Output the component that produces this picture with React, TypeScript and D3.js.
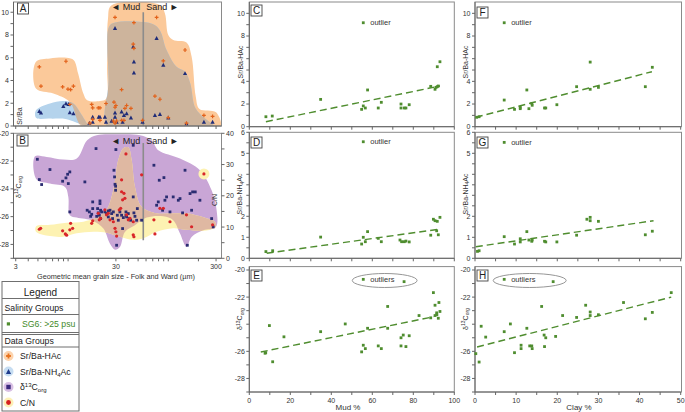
import React from "react";
import * as d3 from "d3";

type P = [number, number];

// ---------------- DATA ----------------
// Panel A: grain size (µm) vs Sr/Ba
const srBaHAc: P[] = [
  [5.16, 5.2], [5.36, 3.5], [8.82, 3.44], [9.52, 5.69], [9.97, 3.24], [10.6, 3.2], [11.3, 3.5], [10.4, 1.9],
  [17.2, 1.9], [17.6, 1.6], [20.0, 1.6], [20.8, 1.6], [23.9, 1.98], [28.7, 2.1], [29.4, 1.65], [30.0, 1.8],
  [29.4, 9.55], [34.2, 3.2], [36.9, 1.55], [38.4, 1.8], [42.4, 1.55], [44.7, 7.2], [45.4, 6.82], [45.4, 9.08],
  [76.5, 9.55], [73.6, 2.62], [82.6, 2.35], [89.2, 5.73], [147, 6.68], [227, 0.94], [277, 0.85], [55.4, 0.5],
  [100, 0.73], [152, 0.26], [16.5, 0.26], [17.6, 0.58], [20.8, 0.5], [28.3, 0.44], [30.5, 0.44], [34.2, 0.5],
  [36.1, 0.5], [29.4, 0.26],
];
const srBaNH4Ac: P[] = [
  [5.16, 1.3], [5.36, 1.15], [8.96, 1.74], [9.52, 1.98], [10.1, 1.9], [10.4, 1.18], [11.3, 1.09], [16.3, 0.26],
  [17.6, 0.79], [17.6, 0.35], [20.2, 0.79], [20.8, 0.79], [23.3, 0.79], [23.9, 0.35], [29.4, 8.59], [29.4, 1.15],
  [29.4, 0.79], [30.5, 0.35], [34.2, 1.24], [35.0, 0.35], [36.1, 0.94], [38.4, 1.09], [44.7, 6.97], [45.4, 5.64],
  [45.4, 4.67], [42.4, 0.73], [55.4, 0.35], [73.6, 0.94], [76.5, 7.7], [82.6, 1.03], [89.2, 5.35], [100, 0.73],
  [147, 4.62], [152, 0.2], [227, 0.35], [277, 0.35], [27.2, 0.44],
];
const hacEnvelope: P[] = [
  [4.78, 5.64], [6.59, 5.94], [9.67, 6.0], [11.4, 5.79], [12.6, 4.62], [14.2, 2.86], [15.5, 2.27], [20.8, 2.2],
  [24.0, 2.4], [24.5, 5.2], [25.0, 9.4], [27.0, 10.6], [82.6, 10.64], [92.6, 9.9], [100, 8.0], [112, 7.56],
  [152, 7.33], [171, 6.1], [188, 2.6], [205, 1.5], [300, 1.2], [328, -0.3], [14.7, -0.3], [10.4, 2.12],
  [7.12, 2.86], [4.78, 3.3],
];
const nh4EnvelopeFine: P[] = [
  [4.78, 1.38], [6.59, 1.98], [8.96, 2.2], [11.3, 1.98], [13.1, 1.24], [15.5, 0.2], [16.3, -0.1], [9.67, 0.6],
  [6.59, 0.65], [4.78, 0.72],
];
const nh4EnvelopeCoarse: P[] = [
  [25.7, 8.75], [29.5, 9.1], [70.8, 8.95], [82.6, 8.4], [96.2, 6.67], [121, 5.2], [147, 4.76], [166, 3.74],
  [186, 1.6], [233, 0.65], [290, 0.0], [300, -0.3], [25.5, -0.3], [25.4, 4.0],
];

// Panel B: grain size vs δ13Corg (left) and C/N (right)
const d13cB: P[] = [
  [4.93, -21.87], [5.16, -23.33], [5.44, -23.69], [6.59, -22.61], [8.82, -23.45], [9.52, -23.21], [9.89, -22.95],
  [10.05, -23.62], [10.4, -22.78], [10.4, -25.66], [14.7, -23.5], [15.5, -25.54], [16.3, -25.66], [16.8, -25.98],
  [17.2, -25.83], [17.6, -24.94], [17.6, -25.42], [19.0, -21.1], [19.3, -25.98], [19.7, -25.42], [20.0, -25.73],
  [20.5, -25.9], [20.8, -24.87], [20.8, -25.06], [21.1, -25.54], [21.1, -26.14], [21.6, -25.66], [23.3, -25.66],
  [24.2, -25.78], [25.2, -25.59], [25.2, -26.02], [26.2, -25.54], [27.2, -25.78], [27.8, -26.14], [28.3, -25.66],
  [28.7, -22.66], [29.1, -23.14], [29.4, -23.67], [29.8, -23.81], [29.8, -24.1], [30.0, -21.17], [30.5, -28.06],
  [31.0, -25.9], [31.7, -26.26], [32.9, -25.66], [34.2, -25.9], [35.0, -26.86], [35.6, -26.07], [37.8, -25.66],
  [37.8, -25.9], [38.4, -26.02], [39.9, -25.78], [40.8, -26.14], [42.1, -26.26], [44.7, -20.86], [44.7, -24.58],
  [45.4, -25.73], [46.5, -25.98], [48.3, -26.26], [49.1, -25.42], [54.2, -26.26], [71.9, -22.3], [76.5, -25.18],
  [79.5, -24.94], [81.3, -23.38], [87.8, -25.54], [90.5, -23.19], [92.6, -24.82], [96.2, -24.58], [104, -25.66],
  [112, -24.58], [126, -24.82], [131, -24.7], [139, -25.73], [147, -22.66], [155, -28.06], [165, -24.34],
  [171, -25.54], [175, -24.22], [186, -24.22], [207, -24.82], [271, -26.14], [281, -26.74],
];
const cnB: P[] = [
  [5.16, 9.3], [5.32, 9.6], [8.82, 8.8], [9.38, 7.8], [9.67, 7.4], [10.4, 9.1], [10.6, 11.2], [11.1, 9.6],
  [17.2, 11.2], [17.6, 12.0], [20.0, 14.4], [20.5, 12.3], [21.1, 12.8], [23.3, 15.5], [24.2, 13.9], [25.2, 14.4],
  [26.2, 12.3], [28.3, 11.7], [29.4, 9.6], [30.0, 8.5], [30.5, 7.1], [32.4, 15.5], [33.5, 16.0], [34.2, 25.1],
  [34.2, 21.3], [35.0, 18.7], [36.1, 20.8], [36.9, 19.2], [37.8, 33.4], [38.4, 13.9], [39.9, 12.3], [41.5, 12.8],
  [44.7, 11.7], [44.7, 7.5], [45.4, 6.9], [54.2, 26.7], [71.9, 12.3], [73.6, 7.8], [82.6, 16.0], [89.2, 16.0],
  [104, 11.7], [152, 13.9], [171, 10.1], [227, 27.0], [277, 10.7],
];
const d13cEnvelope: P[] = [
  [4.67, -21.66], [6.11, -21.7], [8.96, -21.89], [12.2, -21.82], [15.5, -20.5], [19.3, -20.14], [30.5, -20.07],
  [52.2, -20.14], [68.2, -20.5], [79.5, -21.22], [131, -21.82], [207, -22.66], [271, -24.1], [304, -25.54],
  [299, -26.74], [224, -26.98], [171, -27.46], [152, -28.18], [131, -27.22], [112, -26.26], [89.2, -25.98],
  [60.8, -26.07], [46.5, -26.62], [36.9, -27.1], [32.9, -28.18], [29.4, -28.38], [26.2, -27.95], [22.5, -26.86],
  [17.8, -26.31], [12.2, -26.07], [10.4, -25.9], [10.05, -24.58], [9.31, -23.86], [6.59, -23.62], [4.85, -23.33],
];
const cnEnvelope: P[] = [
  [4.78, 10.2], [6.59, 10.7], [9.67, 11.4], [14.2, 11.7], [19.3, 13.1], [24.2, 15.5], [28.3, 21.9], [31.7, 31.5],
  [35.6, 35.2], [39.9, 35.5], [43.1, 31.5], [46.5, 22.9], [54.2, 16.5], [76.5, 14.4], [112, 14.4], [152, 14.4],
  [241, 12.8], [292, 11.7], [299, 10.2], [241, 8.9], [152, 9.1], [112, 9.6], [76.5, 8.5], [56.3, 6.4],
  [44.7, 5.9], [32.9, 6.9], [24.2, 8.2], [17.8, 8.5], [12.2, 8.0], [8.96, 6.9], [6.59, 7.1], [4.78, 8.5],
];
const cnIsolated: P = [227, 27.0];
const mudSandBoundary = 56.3;

// Panels C–E: Mud %
const mudHAc: P[] = [
  [8.1, 0.88], [11.2, 0.94], [34.8, 2.41], [54.8, 1.53], [55.6, 1.83], [56.6, 1.65], [57.7, 3.24], [62.9, 1.65],
  [64.4, 2.15], [74, 2.0], [74, 1.65], [75.6, 1.65], [76.4, 1.65], [78, 1.94], [88.5, 3.56], [90.6, 3.3],
  [91.1, 3.47], [91.7, 3.53], [92.2, 3.59], [91.7, 5.29], [93, 5.73],
];
const mudNH4: P[] = [
  [8.1, 0.32], [11.4, 0.36], [34.8, 1.01], [54.8, 0.68], [55.6, 1.0], [56.6, 0.79], [57.7, 1.27], [62.9, 0.95],
  [64.4, 0.79], [73.5, 0.87], [74.3, 0.79], [75.6, 0.79], [76.4, 0.82], [78, 0.78], [88.5, 1.1], [89.8, 1.86],
  [90.6, 1.79], [91.4, 1.31], [91.7, 1.76], [92.2, 1.12], [93, 1.95],
];
const mudD13: P[] = [
  [7.7, -26.14], [8.0, -26.1], [9.8, -24.1], [11.4, -26.77], [16.9, -24.93], [34.8, -24.55], [46.8, -23.98],
  [54.8, -26.04], [55.6, -25.55], [56.6, -25.8], [57.7, -24.3], [62.9, -25.6], [64.4, -25.8], [67.5, -22.69],
  [67.5, -24.3], [74, -25.6], [74, -25.0], [75.1, -24.8], [76.4, -25.65], [78, -24.85], [82.8, -23.36],
  [88.5, -23.53], [89.8, -21.67], [90.6, -23.36], [90.6, -22.6], [91.4, -23.16], [91.5, -23.3], [92.2, -23.56],
  [92.5, -22.4], [93, -23.06],
];
const mudOutHAc: P[] = [[55.6, 9.17]];
const mudOutNH4: P[] = [[55.6, 5.55]];
const mudOutD13: P[] = [[55.6, -20.69], [75.5, -20.86]];
const mudTrendHAc: P[] = [[8.1, 0.44], [93, 3.59]];
const mudTrendNH4: P[] = [[8.5, 0.24], [92.2, 1.38]];
const mudTrendD13: P[] = [[5.6, -26.05], [89.8, -23.45]];

// Panels F–H: Clay %
const clayHAc: P[] = [
  [0.4, 0.83], [1.0, 0.88], [7.1, 2.35], [9.6, 1.53], [11.0, 1.71], [11.0, 1.59], [12.6, 3.24], [13.1, 1.59],
  [13.8, 2.06], [13.9, 1.89], [16.9, 1.65], [17.2, 1.65], [19.9, 1.94], [24.7, 3.53], [28.0, 3.3], [28.0, 5.7],
  [30.0, 3.47], [41.4, 3.53], [43.1, 5.24],
];
const clayNH4: P[] = [
  [0.6, 0.33], [1.0, 0.36], [7.1, 1.03], [9.6, 0.68], [11.0, 0.93], [11.0, 0.78], [12.6, 1.27], [13.1, 0.87],
  [13.8, 0.81], [13.9, 0.87], [16.9, 0.81], [17.2, 0.78], [19.9, 0.78], [24.7, 1.1], [27.2, 1.86], [28.0, 1.95],
  [28.0, 1.79], [30.0, 1.76], [41.4, 1.12], [43.1, 1.29],
];
const clayD13: P[] = [
  [0.2, -26.17], [1.0, -26.79], [1.5, -24.15], [2.6, -24.95], [7.1, -24.55], [8.6, -23.98], [9.6, -26.1],
  [11.2, -25.55], [11.2, -25.8], [12.6, -24.3], [13.3, -25.6], [13.8, -25.6], [13.9, -25.8], [16.2, -22.69],
  [16.8, -24.8], [16.9, -25.65], [17.2, -25.0], [19.6, -24.9], [21.3, -23.36], [24.7, -23.5], [26.9, -22.6],
  [28, -23.1], [28, -23.36], [30, -23.3], [36.1, -22.4], [41.4, -23.6], [43.1, -23.13], [47.7, -21.67],
];
const clayOutHAc: P[] = [[7.1, 9.17]];
const clayOutNH4: P[] = [[7.1, 5.52]];
const clayOutD13: P[] = [[7.1, -20.69], [19.0, -20.86]];
const clayTrendHAc: P[] = [[0.2, 0.83], [43, 4.85]];
const clayTrendNH4: P[] = [[0.2, 0.55], [43.4, 1.79]];
const clayTrendD13: P[] = [[0.5, -25.68], [47.7, -22.0]];

// tick definitions
const ticksSrBa = d3.range(0, 11, 1);
const labelsSrBaA = [0, 2, 4, 6, 8, 10];
const labelsSrBaC = [0, 2, 4, 8, 10];
const ticksNH4 = d3.range(0, 6.01, 0.5);
const labelsNH4 = [0, 1, 2, 5, 6];
const ticksD13 = d3.range(-29, -19.9, 1);
const labelsD13B = [-20, -22, -24, -26, -28];
const labelsD13E = [-20, -22, -26, -28];
const ticksCN = d3.range(0, 41, 5);
const labelsCN = [0, 10, 20, 30, 40];
const ticksGrain = [3, 4, 5, 6, 7, 8, 9, 10, 20, 30, 40, 50, 60, 70, 80, 90, 100, 200, 300];
const labelsGrain = [3, 30, 300];
const ticksMud = d3.range(0, 101, 10);
const labelsMud = [0, 20, 40, 60, 80, 100];
const ticksClay = d3.range(0, 51, 5);
const labelsClay = [0, 10, 20, 30, 40, 50];

// ---------------- STYLE ----------------
const FONT = "'Liberation Sans', Arial, sans-serif";
const AXIS = "#666";
const FRAME = "#8a8a8a";
const TXT = "#333";
const GREEN = "#4f8d2f";
const ORANGE_FILL = "#fbc99a";
const BLUE_FILL = "#b4d3ec";
const AB_OVERLAP = "#cdb49c";
const PURPLE_FILL = "#c9a6d6";
const YELLOW_FILL = "#fdf2b2";
const PY_OVERLAP = "#dfb8a2";

// ---------------- SCALES ----------------
const xGrain = d3.scaleLog().domain([2.85, 340]).range([13.5, 221.5]);
const yA = d3.scaleLinear().domain([0, 10.9]).range([126, 2]);
const yB = d3.scaleLinear().domain([-29, -20]).range([258.3, 133.3]);
const yBR = d3.scaleLinear().domain([0, 40]).range([258.3, 133.3]);
const xMud = d3.scaleLinear().domain([0, 100]).range([249.3, 454.3]);
const xClay = d3.scaleLinear().domain([0, 50]).range([475, 680.7]);
const ySr = d3.scaleLinear().domain([0, 11]).range([126.7, 2]);
const yNH = d3.scaleLinear().domain([0, 6]).range([258.3, 132.3]);
const yD = d3.scaleLinear().domain([-29, -19.75]).range([392, 266.6]);

type Sc = (v: number) => number;

function closedPath(pts: P[], sx: Sc, sy: Sc) {
  return d3.line<P>().x((d) => sx(d[0])).y((d) => sy(d[1])).curve(d3.curveCatmullRomClosed.alpha(0.5))(pts) || "";
}

function Frame({ x0, x1, y0, y1 }: { x0: number; x1: number; y0: number; y1: number }) {
  return <rect x={x0} y={y0} width={x1 - x0} height={y1 - y0} fill="none" stroke={FRAME} strokeWidth={1} />;
}

function LeftAxis({ sc, x, ticks, labels, len = 3 }: { sc: any; x: number; ticks: number[]; labels: number[]; len?: number }) {
  const r = sc.range();
  return (
    <g>
      <line x1={x} x2={x} y1={r[0]} y2={r[1]} stroke={AXIS} />
      {ticks.map((t) => (
        <line key={"t" + t} x1={x - len} x2={x} y1={sc(t)} y2={sc(t)} stroke={AXIS} />
      ))}
      {labels.map((t) => (
        <text key={"l" + t} x={x - len - 1.5} y={sc(t)} dy="0.35em" textAnchor="end" fontSize={7} fill={TXT}>
          {String(t)}
        </text>
      ))}
    </g>
  );
}

function RightAxis({ sc, x, ticks, labels }: { sc: any; x: number; ticks: number[]; labels: number[] }) {
  return (
    <g>
      {ticks.map((t) => (
        <line key={"t" + t} x1={x} x2={x + 3} y1={sc(t)} y2={sc(t)} stroke={AXIS} />
      ))}
      {labels.map((t) => (
        <text key={"l" + t} x={x + 4.5} y={sc(t)} dy="0.35em" textAnchor="start" fontSize={7} fill={TXT}>
          {String(t)}
        </text>
      ))}
    </g>
  );
}

function BottomAxis({ sc, y, ticks, labels }: { sc: any; y: number; ticks: number[]; labels: number[] }) {
  const r = sc.range();
  return (
    <g>
      <line x1={r[0]} x2={r[1]} y1={y} y2={y} stroke={AXIS} />
      {ticks.map((t) => (
        <line key={"t" + t} x1={sc(t)} x2={sc(t)} y1={y} y2={y + 3} stroke={AXIS} />
      ))}
      {labels.map((t) => (
        <text key={"l" + t} x={sc(t)} y={y + 11} textAnchor="middle" fontSize={7} fill={TXT}>
          {String(t)}
        </text>
      ))}
    </g>
  );
}

function PanelTag({ x, y, label }: { x: number; y: number; label: string }) {
  return (
    <g>
      <rect x={x} y={y} width={11} height={11} fill="#fff" stroke="#444" strokeWidth={0.9} />
      <text x={x + 5.5} y={y + 9.3} textAnchor="middle" fontSize={10} fill="#222">
        {label}
      </text>
    </g>
  );
}

function GreenPts({ pts, sx, sy }: { pts: P[]; sx: Sc; sy: Sc }) {
  return (
    <g>
      {pts.map((d, i) => (
        <rect key={i} x={sx(d[0]) - 1.4} y={sy(d[1]) - 1.4} width={2.8} height={2.8} fill={GREEN} />
      ))}
    </g>
  );
}

function Trend({ pts, sx, sy }: { pts: P[]; sx: Sc; sy: Sc }) {
  return (
    <line
      x1={sx(pts[0][0])}
      y1={sy(pts[0][1])}
      x2={sx(pts[1][0])}
      y2={sy(pts[1][1])}
      stroke={GREEN}
      strokeWidth={1.4}
      strokeDasharray="7,4"
    />
  );
}

function RotTitle({ x, y, children }: { x: number; y: number; children: React.ReactNode }) {
  return (
    <text transform={`translate(${x},${y}) rotate(-90)`} textAnchor="middle" fontSize={7} fill={TXT} dy="0.35em">
      {children}
    </text>
  );
}

const D13Label = () => (
  <>
    δ<tspan fontSize={5} dy={-2.5}>13</tspan>
    <tspan dy={2.5}>C</tspan>
    <tspan fontSize={5} dy={1.5}>org</tspan>
  </>
);
const NH4Label = () => (
  <>
    Sr/Ba-NH<tspan fontSize={5} dy={1.5}>4</tspan>
    <tspan dy={-1.5}>Ac</tspan>
  </>
);

function Plus({ x, y, c = "#e2621b", s = 1.9, w = 1.2 }: { x: number; y: number; c?: string; s?: number; w?: number }) {
  return <path d={`M${x - s},${y}H${x + s}M${x},${y - s}V${y + s}`} stroke={c} strokeWidth={w} />;
}
function Tri({ x, y, c = "#1f2c78", s = 2.1 }: { x: number; y: number; c?: string; s?: number }) {
  return <path d={`M${x},${y - s * 1.1}L${x + s},${y + s * 0.8}L${x - s},${y + s * 0.8}Z`} fill={c} />;
}

function OutlierPanel({
  sx, sy, pts, label, ellipse,
}: { sx: Sc; sy: Sc; pts: P[]; label: string; ellipse: boolean }) {
  const p0 = pts[0];
  const pl = pts[pts.length - 1];
  const tx = sx(p0[0]) + 7;
  const ty = sy(p0[1]);
  return (
    <g>
      {ellipse && (
        <ellipse
          cx={(sx(p0[0]) + sx(pl[0])) / 2 + 1}
          cy={(sy(p0[1]) + sy(pl[1])) / 2}
          rx={(sx(pl[0]) - sx(p0[0])) / 2 + 12}
          ry={7}
          fill="none"
          stroke="#8a8a8a"
          strokeWidth={0.9}
        />
      )}
      <GreenPts pts={pts} sx={sx} sy={sy} />
      <text x={tx} y={ty} dy="0.35em" fontSize={7.5} fill="#333">
        {label}
      </text>
    </g>
  );
}

export default function App() {
  const A = { x0: 13.5, x1: 221.5, y0: 2, y1: 126 };
  const B = { x0: 13.5, x1: 221.5, y0: 133.3, y1: 258.3 };
  const C = { x0: 249.3, x1: 454.3, y0: 2, y1: 126.7 };
  const D = { x0: 249.3, x1: 454.3, y0: 132.3, y1: 258.3 };
  const E = { x0: 249.3, x1: 454.3, y0: 266.6, y1: 392 };
  const F = { x0: 475, x1: 681.5, y0: 2, y1: 126.7 };
  const G = { x0: 475, x1: 681.5, y0: 132.3, y1: 258.3 };
  const Hh = { x0: 475, x1: 681.5, y0: 266.6, y1: 392 };

  const orangeD = closedPath(hacEnvelope, xGrain, yA);
  const blueD1 = closedPath(nh4EnvelopeFine, xGrain, yA);
  const blueD2 = closedPath(nh4EnvelopeCoarse, xGrain, yA);
  const purpleD = closedPath(d13cEnvelope, xGrain, yB);
  const yellowD = closedPath(cnEnvelope, xGrain, yBR);
  const xb = xGrain(mudSandBoundary);

  return (
    <svg width={685} height={412} style={{ display: "block", position: "absolute", left: 0, top: 0 }} fontFamily={FONT}>
      <defs>
        <clipPath id="clipA">
          <rect x={A.x0} y={A.y0} width={A.x1 - A.x0} height={A.y1 - A.y0} />
        </clipPath>
        <clipPath id="clipB">
          <rect x={B.x0} y={B.y0} width={B.x1 - B.x0} height={B.y1 - B.y0} />
        </clipPath>
        <clipPath id="clipOrange">
          <path d={orangeD} />
        </clipPath>
        <clipPath id="clipPurple">
          <path d={purpleD} />
        </clipPath>
      </defs>
      <rect x={0} y={0} width={685} height={412} fill="#fff" />

      {/* ---------- Panel A ---------- */}
      <g clipPath="url(#clipA)">
        <path d={orangeD} fill={ORANGE_FILL} />
        <path d={blueD1} fill={BLUE_FILL} />
        <path d={blueD2} fill={BLUE_FILL} />
        <g clipPath="url(#clipOrange)">
          <path d={blueD1} fill={AB_OVERLAP} />
          <path d={blueD2} fill={AB_OVERLAP} />
        </g>
        <line x1={xb} x2={xb} y1={yA(10)} y2={yA(0)} stroke="#8c8c8c" strokeWidth={1.6} />
        {srBaNH4Ac.map((d, i) => (
          <Tri key={"n" + i} x={xGrain(d[0])} y={yA(d[1])} />
        ))}
        {srBaHAc.map((d, i) => (
          <Plus key={"h" + i} x={xGrain(d[0])} y={yA(d[1])} />
        ))}
      </g>
      <Frame {...A} />
      <LeftAxis sc={yA} x={A.x0} ticks={ticksSrBa} labels={labelsSrBaA} />
      <BottomAxis sc={xGrain} y={A.y1} ticks={ticksGrain} labels={[]} />
      <RotTitle x={19.5} y={116}>Sr/Ba</RotTitle>
      <PanelTag x={17.5} y={3} label="A" />
      <text x={xb - 3} y={10} textAnchor="end" fontSize={9} fill="#222">◄ Mud</text>
      <text x={xb + 3} y={10} textAnchor="start" fontSize={9} fill="#222">Sand ►</text>

      {/* ---------- Panel B ---------- */}
      <g clipPath="url(#clipB)">
        <path d={purpleD} fill={PURPLE_FILL} />
        <path d={yellowD} fill={YELLOW_FILL} />
        <circle cx={xGrain(cnIsolated[0])} cy={yBR(cnIsolated[1])} r={5.5} fill={YELLOW_FILL} />
        <g clipPath="url(#clipPurple)">
          <path d={yellowD} fill={PY_OVERLAP} />
        </g>
        <line x1={xb} x2={xb} y1={yB(-20.7)} y2={yB(-27.7)} stroke="#8c8c8c" strokeWidth={1.6} />
        {d13cB.map((d, i) => (
          <rect key={"s" + i} x={xGrain(d[0]) - 1.4} y={yB(d[1]) - 1.4} width={2.8} height={2.8} fill="#2b2d72" />
        ))}
        {cnB.map((d, i) => (
          <circle key={"c" + i} cx={xGrain(d[0])} cy={yBR(d[1])} r={1.6} fill="#d8262a" />
        ))}
      </g>
      <Frame {...B} />
      <LeftAxis sc={yB} x={B.x0} ticks={ticksD13} labels={labelsD13B} />
      <RightAxis sc={yBR} x={B.x1} ticks={ticksCN} labels={labelsCN} />
      <BottomAxis sc={xGrain} y={B.y1} ticks={ticksGrain} labels={labelsGrain} />
      <RotTitle x={18.5} y={187}><D13Label /></RotTitle>
      <RotTitle x={215} y={200}>C/N</RotTitle>
      <PanelTag x={17} y={135} label="B" />
      <text x={xb - 3} y={143.5} textAnchor="end" fontSize={9} fill="#222">◄ Mud</text>
      <text x={xb + 3} y={143.5} textAnchor="start" fontSize={9} fill="#222">Sand ►</text>
      <text x={116} y={279} textAnchor="middle" fontSize={7.3} fill={TXT}>
        Geometric mean grain size - Folk and Ward (µm)
      </text>

      {/* ---------- Panels C, D, E (Mud %) ---------- */}
      <Frame {...C} />
      <LeftAxis sc={ySr} x={C.x0} ticks={ticksSrBa} labels={labelsSrBaC} />
      <BottomAxis sc={xMud} y={C.y1} ticks={ticksMud} labels={[]} />
      <Trend pts={mudTrendHAc} sx={xMud} sy={ySr} />
      <GreenPts pts={mudHAc} sx={xMud} sy={ySr} />
      <OutlierPanel sx={xMud} sy={ySr} pts={mudOutHAc} label="outlier" ellipse={false} />
      <RotTitle x={240.5} y={62}>Sr/Ba-HAc</RotTitle>
      <PanelTag x={251} y={5} label="C" />

      <Frame {...D} />
      <LeftAxis sc={yNH} x={D.x0} ticks={ticksNH4} labels={labelsNH4} />
      <BottomAxis sc={xMud} y={D.y1} ticks={ticksMud} labels={[]} />
      <Trend pts={mudTrendNH4} sx={xMud} sy={yNH} />
      <GreenPts pts={mudNH4} sx={xMud} sy={yNH} />
      <OutlierPanel sx={xMud} sy={yNH} pts={mudOutNH4} label="outlier" ellipse={false} />
      <RotTitle x={240} y={194}><NH4Label /></RotTitle>
      <PanelTag x={251} y={137} label="D" />

      <Frame {...E} />
      <LeftAxis sc={yD} x={E.x0} ticks={ticksD13} labels={labelsD13E} />
      <BottomAxis sc={xMud} y={E.y1} ticks={ticksMud} labels={labelsMud} />
      <Trend pts={mudTrendD13} sx={xMud} sy={yD} />
      <GreenPts pts={mudD13} sx={xMud} sy={yD} />
      <OutlierPanel sx={xMud} sy={yD} pts={mudOutD13} label="outliers" ellipse={true} />
      <RotTitle x={240} y={319}><D13Label /></RotTitle>
      <PanelTag x={251} y={270} label="E" />
      <text x={348} y={410} textAnchor="middle" fontSize={8} fill={TXT}>Mud %</text>

      {/* ---------- Panels F, G, H (Clay %) ---------- */}
      <Frame {...F} />
      <LeftAxis sc={ySr} x={F.x0} ticks={ticksSrBa} labels={labelsSrBaC} />
      <BottomAxis sc={xClay} y={F.y1} ticks={ticksClay} labels={[]} />
      <Trend pts={clayTrendHAc} sx={xClay} sy={ySr} />
      <GreenPts pts={clayHAc} sx={xClay} sy={ySr} />
      <OutlierPanel sx={xClay} sy={ySr} pts={clayOutHAc} label="outlier" ellipse={false} />
      <RotTitle x={465.5} y={62}>Sr/Ba-HAc</RotTitle>
      <PanelTag x={477} y={7} label="F" />

      <Frame {...G} />
      <LeftAxis sc={yNH} x={G.x0} ticks={ticksNH4} labels={labelsNH4} />
      <BottomAxis sc={xClay} y={G.y1} ticks={ticksClay} labels={[]} />
      <Trend pts={clayTrendNH4} sx={xClay} sy={yNH} />
      <GreenPts pts={clayNH4} sx={xClay} sy={yNH} />
      <OutlierPanel sx={xClay} sy={yNH} pts={clayOutNH4} label="outlier" ellipse={false} />
      <RotTitle x={465.5} y={194}><NH4Label /></RotTitle>
      <PanelTag x={477} y={137} label="G" />

      <Frame {...Hh} />
      <LeftAxis sc={yD} x={Hh.x0} ticks={ticksD13} labels={labelsD13E} />
      <BottomAxis sc={xClay} y={Hh.y1} ticks={ticksClay} labels={labelsClay} />
      <Trend pts={clayTrendD13} sx={xClay} sy={yD} />
      <GreenPts pts={clayD13} sx={xClay} sy={yD} />
      <OutlierPanel sx={xClay} sy={yD} pts={clayOutD13} label="outliers" ellipse={true} />
      <RotTitle x={465.5} y={319}><D13Label /></RotTitle>
      <PanelTag x={477} y={270} label="H" />
      <text x={579} y={410} textAnchor="middle" fontSize={8} fill={TXT}>Clay %</text>

      {/* ---------- Legend ---------- */}
      <g>
        <rect x={2} y={281.5} width={77} height={129.5} fill="#fff" stroke="#6f6f6f" strokeWidth={1} />
        <text x={40.5} y={295.5} textAnchor="middle" fontSize={10} fill="#222">Legend</text>
        <line x1={2} x2={79} y1={298.5} y2={298.5} stroke="#6f6f6f" />
        <text x={4.5} y={310.5} fontSize={8.7} fill="#222">Salinity Groups</text>
        <line x1={2} x2={79} y1={314.5} y2={314.5} stroke="#6f6f6f" />
        <rect x={6.8} y={322.3} width={3.2} height={3.2} fill={GREEN} />
        <text x={22} y={327} fontSize={8.7} fill="#3f8a2a">SG6: &gt;25 psu</text>
        <line x1={2} x2={79} y1={332.5} y2={332.5} stroke="#6f6f6f" />
        <line x1={2} x2={79} y1={334.5} y2={334.5} stroke="#6f6f6f" />
        <text x={4.5} y={344} fontSize={8.7} fill="#222">Data Groups</text>
        <line x1={2} x2={79} y1={347} y2={347} stroke="#6f6f6f" />

        <circle cx={8.5} cy={356} r={5} fill="#fcd3ad" />
        <Plus x={8.5} y={356} c="#e8731f" s={2.4} w={1.8} />
        <text x={20} y={359} fontSize={8.7} fill="#222">Sr/Ba-HAc</text>

        <circle cx={8.5} cy={371.5} r={5} fill="#c6ddf2" />
        <Tri x={8.5} y={371.8} c="#1f3b8c" s={2.6} />
        <text x={20} y={374.5} fontSize={8.7} fill="#222">
          Sr/Ba-NH<tspan fontSize={6} dy={2}>4</tspan>
          <tspan dy={-2}>Ac</tspan>
        </text>

        <circle cx={8.5} cy={387} r={5} fill="#d9c0e4" />
        <rect x={6.3} y={384.8} width={4.4} height={4.4} fill="#3b2a7c" />
        <text x={20} y={389.5} fontSize={8.7} fill="#222">
          δ<tspan fontSize={6} dy={-3}>13</tspan>
          <tspan dy={3}>C</tspan>
          <tspan fontSize={6} dy={2}>org</tspan>
        </text>

        <circle cx={8.5} cy={402.5} r={5} fill="#fdf0b6" />
        <circle cx={8.5} cy={402.5} r={2.4} fill="#d6201f" />
        <text x={20} y={405.5} fontSize={8.7} fill="#222">C/N</text>
      </g>
    </svg>
  );
}
